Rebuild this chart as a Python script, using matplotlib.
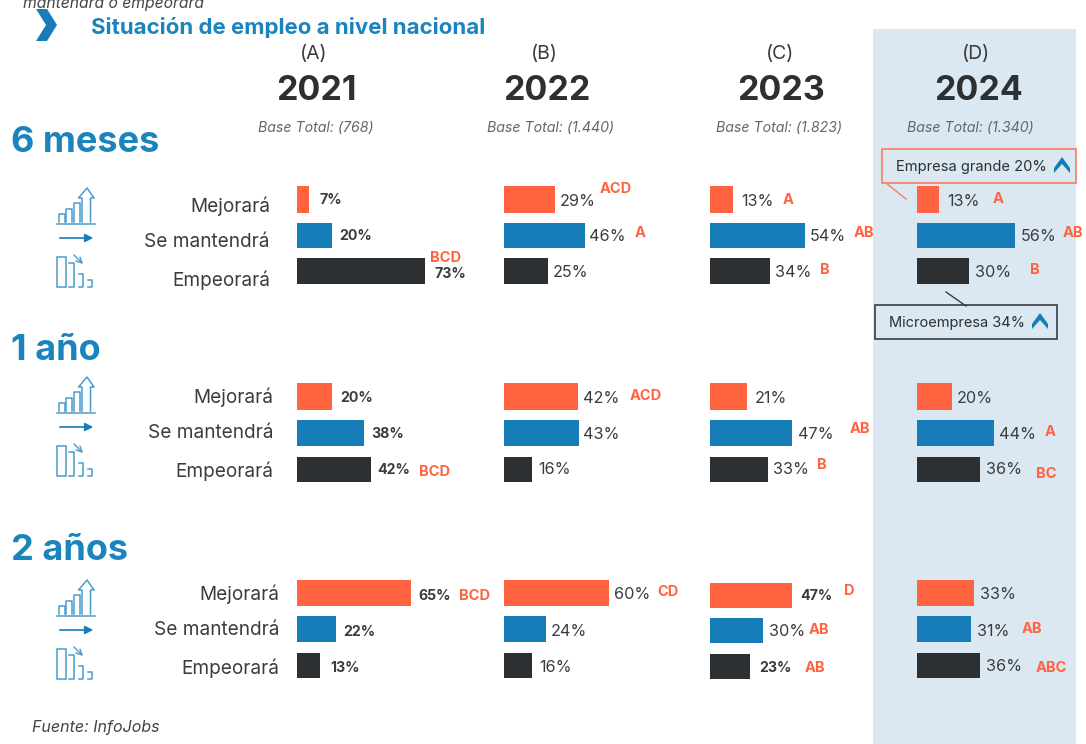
import matplotlib
matplotlib.use("Agg")
import matplotlib.pyplot as plt
from matplotlib.patches import Polygon, Rectangle

plt.rcParams['font.family'] = ['Inter', 'Open Sans', 'DejaVu Sans']

# ---------- data ----------
years = ['2021', '2022', '2023', '2024']
letters = ['(A)', '(B)', '(C)', '(D)']
bases = ['Base Total: (768)', 'Base Total: (1.440)', 'Base Total: (1.823)', 'Base Total: (1.340)']
periods = ['6 meses', '1 año', '2 años']
categories = ['Mejorará', 'Se mantendrá', 'Empeorará']
values_2021 = [7, 20, 73, 20, 38, 42, 65, 22, 13]
values_2022 = [29, 46, 25, 42, 43, 16, 60, 24, 16]
values_2023 = [13, 54, 34, 21, 47, 33, 47, 30, 23]
values_2024 = [13, 56, 30, 20, 44, 36, 33, 31, 36]
all_values = [values_2021, values_2022, values_2023, values_2024]
sig_2021 = ['', '', 'BCD', '', '', 'BCD', 'BCD', '', '']
sig_2022 = ['ACD', 'A', '', 'ACD', '', '', 'CD', '', '']
sig_2023 = ['A', 'AB', 'B', '', 'AB', 'B', 'D', 'AB', 'AB']
sig_2024 = ['A', 'AB', 'B', '', 'A', 'BC', '', 'AB', 'ABC']
all_sig = [sig_2021, sig_2022, sig_2023, sig_2024]

# ---------- layout (pixels) ----------
W, H = 1086, 744
PX_PER_PCT = 1.75
col_left = [297, 504, 710, 916.5]
bar_rows = [
    [(186, 213), (223, 248), (258, 284), (383, 410), (420, 446), (457, 482), (580, 606), (616, 642), (653, 678)],
    [(186, 213), (223, 248), (258, 284), (383, 410), (420, 446), (457, 482), (580, 606), (616, 642), (653, 678)],
    [(186, 213), (223, 248), (258, 284), (383, 410), (420, 446), (457, 482), (583, 608), (618, 643), (654, 679)],
    [(186, 213), (223, 248), (258, 284), (383, 410), (420, 446), (457, 482), (580, 606), (616, 642), (653, 678)],
]
val_pos = [
    [(331, 199), (356, 235), (450, 272), (357, 396), (388, 432), (394, 469), (435, 594), (359, 630), (345, 666)],
    [(578, 200), (607, 235), (571, 271), (601, 397), (601, 433), (555, 468), (632, 593), (569, 630), (556, 666)],
    [(757, 200), (828, 235), (793, 271), (771, 397), (816, 433), (791, 468), (816, 594), (787, 630), (775, 667)],
    [(964, 200), (1039, 235), (993, 271), (975, 397), (1018, 433), (1004, 468), (998, 593), (993, 630), (1004, 665)],
]
sig_pos = [
    [None, None, (446, 257), None, None, (435, 471), (475, 595), None, None],
    [(616, 188), (640, 232), None, (646, 395), None, None, (668, 591), None, None],
    [(788, 199), (864, 232), (825, 269), None, (860, 428), (822, 464), (849, 590), (819, 629), (815, 667)],
    [(998, 198), (1073, 232), (1035, 269), None, (1050, 431), (1046, 473), None, (1032, 628), (1051, 667)],
]
row_label_x = [270, 273, 279]
row_label_y = [[205, 241, 279], [396, 432, 470], [593, 629, 667]]
head_x = [[314, 316, 316], [544, 547, 551], [780, 781, 779], [976, 979, 970]]
period_xy = [(11, 141), (11, 349), (11, 549)]
icon_y = [188, 377, 580]
ORANGE, BLUE, DARK = '#FF6340', '#177DB8', '#2D3033'
TITLE_BLUE = '#1B84BD'
colors = [ORANGE, BLUE, DARK]
DY = 1.5

fig = plt.figure(figsize=(W / 100, H / 100), dpi=100, facecolor='white')

back = fig.add_axes([0, 0, 1, 1], zorder=0)
back.set_xlim(0, W)
back.set_ylim(H, 0)
back.axis('off')
back.add_patch(Rectangle((873, 29), 203, H - 29, fc='#DCE8F1', ec='none'))

# bars: one axes per year, x in percent, y in pixels
for c, vals in enumerate(all_values):
    left = col_left[c]
    width_px = 160
    ax = fig.add_axes([left / W, 0, width_px / W, 1], zorder=1)
    ax.set_xlim(0, width_px / PX_PER_PCT)
    ax.set_ylim(H, 0)
    ax.axis('off')
    for i, v in enumerate(vals):
        y0, y1 = bar_rows[c][i]
        ax.barh((y0 + y1) / 2, v, height=y1 - y0, color=colors[i % 3], edgecolor='none')

canvas = fig.add_axes([0, 0, 1, 1], zorder=2)
canvas.set_xlim(0, W)
canvas.set_ylim(H, 0)
canvas.axis('off')

TXT = '#3A3D40'
canvas.text(23, 3, 'mantendrá o empeorará', fontsize=11.3, style='italic', color='#444444', ha='left', va='center')
canvas.add_patch(Polygon([(36, 9), (47, 9), (57, 25), (47, 41), (36, 41), (46, 25)], fc=BLUE, ec='none'))
canvas.text(91, 26 + DY, 'Situación de empleo a nivel nacional', fontsize=16, weight='bold', color=TITLE_BLUE, ha='left', va='center')

for c in range(4):
    canvas.text(head_x[c][0], 52 + DY, letters[c], fontsize=14, color=TXT, ha='center', va='center')
    canvas.text(head_x[c][1], 89 + DY, years[c], fontsize=24.5, weight='bold', color=DARK, ha='center', va='center')
    canvas.text(head_x[c][2], 127 + DY, bases[c], fontsize=10.2, style='italic', color='#666666', ha='center', va='center')
    for i, v in enumerate(all_values[c]):
        x, y = val_pos[c][i]
        bold = c == 0 or (c == 2 and i in (6, 8))
        canvas.text(x, y + DY, f'{v}%', fontsize=11.7 if not bold else 10.2, weight='bold' if bold else 'normal', color=TXT, ha='center', va='center')
        if all_sig[c][i]:
            sx, sy = sig_pos[c][i]
            canvas.text(sx, sy + 1, all_sig[c][i], fontsize=10.5, weight='bold', color=ORANGE, ha='center', va='center')

for p, name in enumerate(periods):
    canvas.text(period_xy[p][0], period_xy[p][1] + 2, name, fontsize=26, weight='bold', color=TITLE_BLUE, ha='left', va='center')
    for r, cat in enumerate(categories):
        canvas.text(row_label_x[p], row_label_y[p][r] + 1, cat, fontsize=13.7, color=TXT, ha='right', va='center')


def icons(y):
    c = '#4A9CCB'
    lw = 1.1
    canvas.plot([57, 95], [y + 36, y + 36], color=c, lw=lw)
    for x0, x1, top in [(59, 65, 26), (66, 72, 21), (74, 80, 15)]:
        canvas.plot([x0, x0, x1, x1], [y + 34, y + top, y + top, y + 34], color=c, lw=lw)
    canvas.plot([82, 82, 78.5, 87, 94, 90.5, 90.5], [y + 34, y + 10, y + 10, y, y + 10, y + 10, y + 34], color=c, lw=lw)
    canvas.annotate('', xy=(96, y + 50), xytext=(57, y + 50),
                    arrowprops=dict(arrowstyle='-|>', color=BLUE, lw=1.2, mutation_scale=12))
    canvas.add_patch(Rectangle((57, y + 69), 9, 30, fc='none', ec=c, lw=lw))
    canvas.plot([69, 74, 74, 69], [y + 75, y + 75, y + 99, y + 99], color=c, lw=lw)
    canvas.plot([79, 83, 83, 79], [y + 86, y + 86, y + 99, y + 99], color=c, lw=lw)
    canvas.plot([88, 92, 92, 88], [y + 92, y + 92, y + 99, y + 99], color=c, lw=lw)
    canvas.annotate('', xy=(85, y + 78), xytext=(72, y + 65),
                    arrowprops=dict(arrowstyle='->', color=c, lw=1))


for y in icon_y:
    icons(y)


def chevron(x, y):
    canvas.add_patch(Polygon([(x - 8, y + 3), (x, y - 8), (x + 8, y + 3), (x + 8, y + 8), (x, y - 1), (x - 8, y + 8)], fc=BLUE, ec='none'))


canvas.add_patch(Rectangle((882, 149), 194, 34, fc='none', ec='#F4866C', lw=1.3))
canvas.plot([886, 906], [183, 199], color='#F4866C', lw=1.1)
canvas.text(896, 166 + DY, 'Empresa grande 20%', fontsize=10.6, color=DARK, ha='left', va='center')
chevron(1062, 165)
canvas.add_patch(Rectangle((875, 305), 182, 34, fc='none', ec='#3A3D40', lw=1.2))
canvas.plot([946, 966], [292, 306], color='#3A3D40', lw=1.0)
canvas.text(889, 322 + DY, 'Microempresa 34%', fontsize=10.5, color=DARK, ha='left', va='center')
chevron(1040, 321)

canvas.text(32, 726 + DY, 'Fuente: InfoJobs', fontsize=11.5, style='italic', color='#444444', ha='left', va='center')

fig.savefig('out.png', dpi=100)
